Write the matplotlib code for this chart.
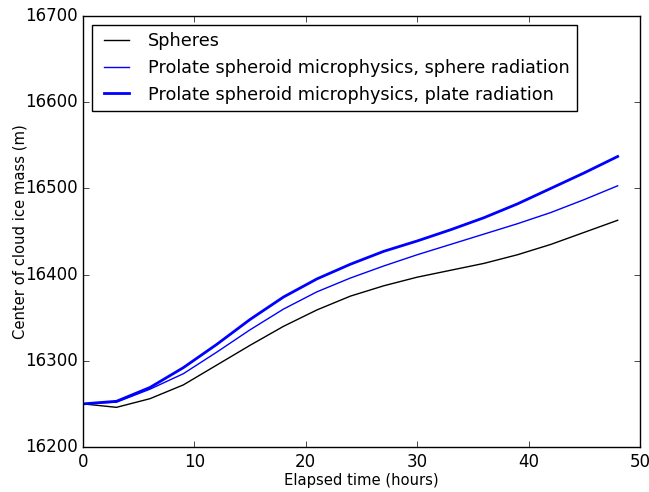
import matplotlib
matplotlib.use('Agg')
import matplotlib.pyplot as plt

plt.style.use('classic')

# Elapsed time (hours) and centre of cloud ice mass (m)
hours = [0, 3, 6, 9, 12, 15, 18, 21, 24, 27, 30, 33, 36, 39, 42, 45, 48]
spheres = [16250, 16246, 16256, 16272, 16295, 16318, 16340, 16359, 16375,
           16387, 16397, 16405, 16413, 16423, 16435, 16449, 16463]
prolate_sphere_rad = [16250, 16252, 16267, 16285, 16310, 16336, 16360, 16380, 16396,
                      16410, 16423, 16435, 16447, 16459, 16472, 16487, 16503]
prolate_plate_rad = [16250, 16253, 16269, 16292, 16319, 16348, 16374, 16395, 16412,
                     16427, 16439, 16452, 16466, 16482, 16500, 16518, 16537]

fig = plt.figure(figsize=(6.49, 4.92), dpi=100)
ax = fig.add_axes([0.128, 0.0915, 0.858, 0.876])

ax.plot(hours, spheres, 'k-', lw=1, label='Spheres')
ax.plot(hours, prolate_sphere_rad, 'b-', lw=1,
        label='Prolate spheroid microphysics, sphere radiation')
ax.plot(hours, prolate_plate_rad, 'b-', lw=2,
        label='Prolate spheroid microphysics, plate radiation')

ax.set_xlim(0, 50)
ax.set_ylim(16200, 16700)
ax.ticklabel_format(useOffset=False)
ax.set_xlabel('Elapsed time (hours)', fontsize=10.6, labelpad=2)
ax.set_ylabel('Center of cloud ice mass (m)', fontsize=10.6, labelpad=-2)
ax.legend(loc='upper left', fontsize=12.7)

fig.savefig('out.png', dpi=100)
